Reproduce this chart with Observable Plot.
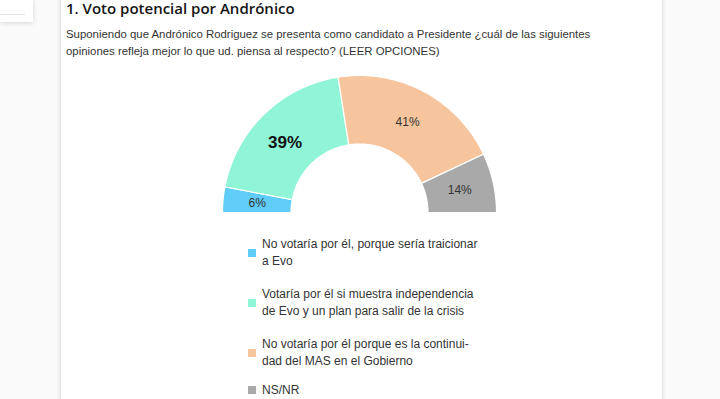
<!DOCTYPE html>
<html>
<head>
<meta charset="utf-8">
<script src="https://cdn.jsdelivr.net/npm/d3@7"></script>
<script src="https://cdn.jsdelivr.net/npm/@observablehq/plot@0.6"></script>
<style>
  html, body { margin: 0; padding: 0; }
  body { width: 720px; height: 399px; background: #fafafa; position: relative; overflow: hidden; font-family: "Liberation Sans", Arial, sans-serif; }
  .minicard { position: absolute; left: 0; top: 0; width: 33px; height: 22px; background: #fff; box-shadow: 0 1px 5px rgba(0,0,0,0.15); }
  .minicard div { position: absolute; left: 0; top: 14px; width: 25px; height: 1px; background: #e4e4e4; }
  .card { position: absolute; left: 61px; top: -10px; width: 601px; height: 420px; background: #fff; box-shadow: 0 0 5px rgba(0,0,0,0.16); }
  #title { position: absolute; left: 66px; top: -2px; font-family: "Open Sans", sans-serif; font-weight: 600; font-size: 15px; line-height: 20px; color: #151515; white-space: nowrap; }
  #subtitle { position: absolute; left: 66px; top: 26px; font-size: 11.4px; line-height: 17px; color: #333; white-space: nowrap; }
  #chart { position: absolute; left: 0; top: 0; }
  #legend { position: absolute; left: 248px; top: 236px; font-size: 12px; line-height: 16.5px; color: #333; }
  .item { display: flex; align-items: center; margin-bottom: 17px; }
  .item:nth-child(3) { margin-bottom: 13px; }
  .sw { width: 8px; height: 8px; margin-right: 6px; flex: none; }
</style>
</head>
<body>
<div class="minicard"><div></div></div>
<div class="card"></div>
<div id="title"></div>
<div id="subtitle"></div>
<div id="chart"></div>
<div id="legend"></div>
<script>
const title = "1. Voto potencial por Andrónico";
const subtitleLines = [
  "Suponiendo que Andrónico Rodriguez se presenta como candidato a Presidente ¿cuál de las siguientes",
  "opiniones refleja mejor lo que ud. piensa al respecto? (LEER OPCIONES)"
];
const categories = [
  "No votaría por él, porque sería traicionar a Evo",
  "Votaría por él si muestra independencia de Evo y un plan para salir de la crisis",
  "No votaría por él porque es la continuidad del MAS en el Gobierno",
  "NS/NR"
];
const legendLines = [
  ["No votaría por él, porque sería traicionar", "a Evo"],
  ["Votaría por él si muestra independencia", "de Evo y un plan para salir de la crisis"],
  ["No votaría por él porque es la continui-", "dad del MAS en el Gobierno"],
  ["NS/NR"]
];
const values = [6, 39, 41, 14];
const colors = ["#5fcdf7", "#8ff5d6", "#f7c59d", "#a9a9a9"];
const highlight = 1;

document.getElementById("title").textContent = title;
document.getElementById("subtitle").innerHTML = subtitleLines.join("<br>");

const innerR = 0.5;
const pie = d3.pie().sort(null).startAngle(-Math.PI / 2).endAngle(Math.PI / 2)(values);
const polys = [];
pie.forEach((p, i) => {
  const n = 60;
  for (let k = 0; k <= n; k++) {
    const a = p.startAngle + (p.endAngle - p.startAngle) * k / n;
    polys.push({cat: categories[i], x: Math.sin(a), y: Math.cos(a)});
  }
  for (let k = n; k >= 0; k--) {
    const a = p.startAngle + (p.endAngle - p.startAngle) * k / n;
    polys.push({cat: categories[i], x: innerR * Math.sin(a), y: innerR * Math.cos(a)});
  }
});
const labels = pie.map((p, i) => {
  const a = (p.startAngle + p.endAngle) / 2;
  const r = (1 + innerR) / 2;
  return {i, text: values[i] + "%", x: r * Math.sin(a), y: r * Math.cos(a)};
});

const chart = Plot.plot({
  width: 720,
  height: 225,
  margin: 0,
  style: {background: "transparent", overflow: "visible"},
  x: {domain: [-1, 1], range: [222, 496], axis: null},
  y: {domain: [0, 1], range: [212, 75], axis: null},
  color: {domain: categories, range: colors},
  marks: [
    Plot.line(polys, {x: "x", y: "y", z: "cat", fill: "cat", stroke: "white", strokeWidth: 1.2, curve: "linear-closed"}),
    Plot.text(labels.filter(d => d.i !== highlight), {x: "x", y: "y", text: "text", fontSize: 12, fill: "#333", fontFamily: "Liberation Sans, Arial, sans-serif"}),
    Plot.text(labels.filter(d => d.i === highlight), {x: "x", y: "y", text: "text", dx: -3, dy: 4, fontSize: 17, fontWeight: "bold", fill: "#111", fontFamily: "Liberation Sans, Arial, sans-serif"})
  ]
});
document.getElementById("chart").appendChild(chart);

const legend = document.getElementById("legend");
legendLines.forEach((lines, i) => {
  const it = document.createElement("div");
  it.className = "item";
  const sw = document.createElement("div");
  sw.className = "sw";
  sw.style.background = colors[i];
  const tx = document.createElement("div");
  tx.innerHTML = lines.join("<br>");
  it.appendChild(sw);
  it.appendChild(tx);
  legend.appendChild(it);
});
</script>
</body>
</html>
